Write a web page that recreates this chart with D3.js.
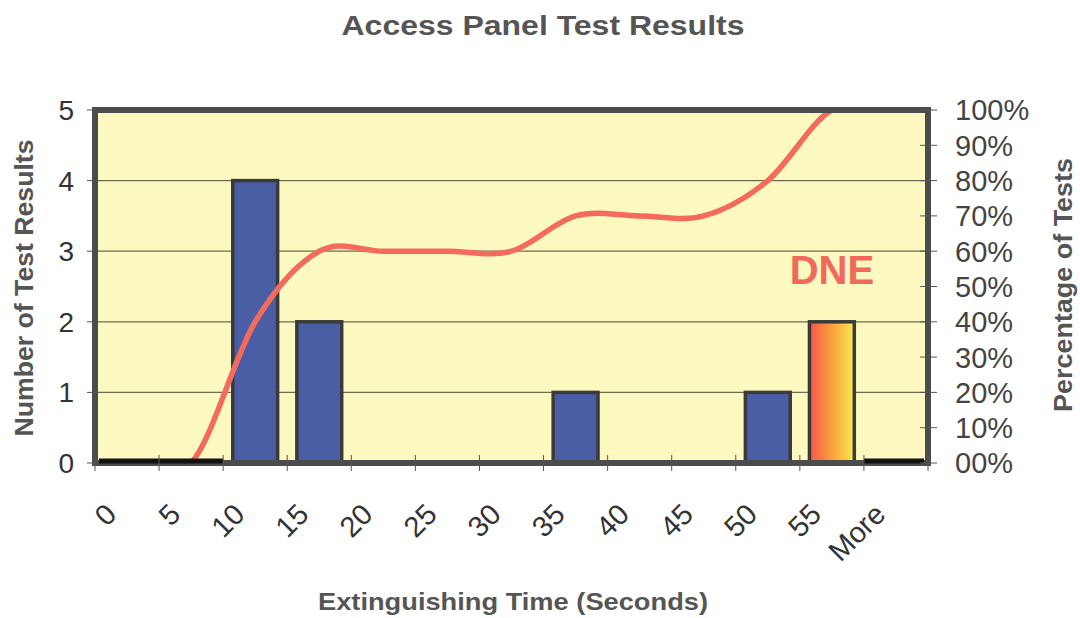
<!DOCTYPE html>
<html><head><meta charset="utf-8">
<script src="https://cdn.jsdelivr.net/npm/d3@7"></script>
<style>
html,body{margin:0;padding:0;background:#fff;}
svg{display:block;font-family:"Liberation Sans",Arial,sans-serif;}
</style></head>
<body>
<svg id="chart" width="1080" height="618"></svg>
<script>
const categories = ["0","5","10","15","20","25","30","35","40","45","50","55","More"];
const counts = [0,0,4,2,0,0,0,1,0,0,1,2,0];
const cumulativePct = [0,0,40,60,60,60,60,70,70,70,80,100,100];
const leftTicks = [0,1,2,3,4,5];
const rightTicks = [0,10,20,30,40,50,60,70,80,90,100];
const rightTickLabels = ["00%","10%","20%","30%","40%","50%","60%","70%","80%","90%","100%"];
const highlightCategory = "55";
const annotation = "DNE";
const title = "Access Panel Test Results";
const xTitle = "Extinguishing Time (Seconds)";
const yTitle = "Number of Test Results";
const y2Title = "Percentage of Tests";

const svg = d3.select("#chart");
const L = 95, R = 928, T = 110, B = 463;

const x = d3.scaleBand().domain(categories).range([L, R]).padding(0);
const step = x.step();
const y = d3.scaleLinear().domain([0,5]).range([B, T]);
const y2 = d3.scaleLinear().domain([0,100]).range([B, T]);

const defs = svg.append("defs");
const grad = defs.append("linearGradient").attr("id","dneGrad").attr("x1","0%").attr("x2","100%").attr("y1","0%").attr("y2","0%");
grad.append("stop").attr("offset","0%").attr("stop-color","#f5574a");
grad.append("stop").attr("offset","50%").attr("stop-color","#f9a03c");
grad.append("stop").attr("offset","100%").attr("stop-color","#f8ea4e");
defs.append("clipPath").attr("id","plotClip").append("rect")
  .attr("x",L).attr("y",T).attr("width",R-L).attr("height",B-T);

// background
svg.append("rect").attr("x",L).attr("y",T).attr("width",R-L).attr("height",B-T).attr("fill","#fbf9c0");

// gridlines
svg.append("g").selectAll("line").data(leftTicks.filter(d=>d>0 && d<5)).join("line")
  .attr("x1",L).attr("x2",R).attr("y1",d=>y(d)).attr("y2",d=>y(d))
  .attr("stroke","#6e6c50").attr("stroke-width",1.2);

// bars
const bw = step*0.7;
const barData = categories.map((c,i)=>({c,v:counts[i]}));
svg.append("g").selectAll("rect").data(barData.filter(d=>d.v>0)).join("rect")
  .attr("x",d=>x(d.c)+(step-bw)/2)
  .attr("y",d=>y(d.v))
  .attr("width",bw)
  .attr("height",d=>B-y(d.v))
  .attr("fill",d=>d.c===highlightCategory?"url(#dneGrad)":"#4a5ea6")
  .attr("stroke","#3a3a3a")
  .attr("stroke-width",3.5);

// cumulative line
const line = d3.line().x((d,i)=>x(categories[i])+step/2).y(d=>y2(d)).curve(d3.curveCatmullRom.alpha(0));
svg.append("path").datum(cumulativePct).attr("d",line)
  .attr("fill","none").attr("stroke","#f46a5c").attr("stroke-width",5.5).attr("clip-path","url(#plotClip)");

// border
svg.append("rect").attr("x",L).attr("y",T).attr("width",R-L).attr("height",B-T)
  .attr("fill","none").attr("stroke","#4c4c4c").attr("stroke-width",6);

// zero-height bars (edge lines on baseline)
svg.append("g").selectAll("line").data(barData.filter((d,i)=>d.v===0 && (i<2 || i===12))).join("line")
  .attr("x1",d=>x(d.c)+(d.c==="0"?4:0)).attr("x2",d=>x(d.c)+step-(d.c==="More"?4:0))
  .attr("y1",B-2).attr("y2",B-2).attr("stroke","#111").attr("stroke-width",5);

// left axis
const gl = svg.append("g");
gl.selectAll("line").data(leftTicks).join("line")
  .attr("x1",L-8).attr("x2",L).attr("y1",d=>y(d)).attr("y2",d=>y(d)).attr("stroke","#555").attr("stroke-width",1);
gl.selectAll("text").data(leftTicks).join("text")
  .attr("x",74).attr("y",d=>y(d)).attr("dy","0.36em").attr("text-anchor","end")
  .attr("font-size",28).attr("fill","#333").text(d=>d);

// right axis
const gr = svg.append("g");
gr.selectAll("line").data(rightTicks).join("line")
  .attr("x1",R-8).attr("x2",R+9).attr("y1",d=>y2(d)).attr("y2",d=>y2(d)).attr("stroke","#555").attr("stroke-width",1);
gr.selectAll("text").data(rightTicks).join("text")
  .attr("x",955).attr("y",d=>y2(d)).attr("dy","0.36em").attr("text-anchor","start")
  .attr("font-size",29).attr("fill","#444").text((d,i)=>rightTickLabels[i]);

// bottom axis ticks
const gb = svg.append("g");
gb.selectAll("line").data(categories.concat(["_end"])).join("line")
  .attr("x1",(d,i)=>L+i*step).attr("x2",(d,i)=>L+i*step)
  .attr("y1",B-8).attr("y2",B+8).attr("stroke","#555").attr("stroke-width",1);
gb.selectAll("text").data(categories).join("text")
  .attr("transform",d=>`translate(${x(d)+16},${B+46}) rotate(-45)`)
  .attr("text-anchor","end").attr("dy","0.35em")
  .attr("font-size",29).attr("fill","#333").text(d=>d);

// DNE annotation
svg.append("text").attr("x",x(highlightCategory)+step/2).attr("y",284).attr("text-anchor","middle")
  .attr("font-size",40).attr("font-weight","bold").attr("fill","#f2685a").text(annotation);

// titles
svg.append("text").attr("x",543).attr("y",35).attr("text-anchor","middle")
  .attr("font-size",27).attr("font-weight","bold").attr("fill","#555")
  .attr("textLength",403).attr("lengthAdjust","spacingAndGlyphs").text(title);
svg.append("text").attr("x",513).attr("y",610).attr("text-anchor","middle")
  .attr("font-size",24).attr("font-weight","bold").attr("fill","#555")
  .attr("textLength",390).attr("lengthAdjust","spacingAndGlyphs").text(xTitle);
svg.append("text").attr("transform","translate(33,288) rotate(-90)").attr("text-anchor","middle")
  .attr("font-size",25).attr("font-weight","bold").attr("fill","#555")
  .attr("textLength",297).attr("lengthAdjust","spacingAndGlyphs").text(yTitle);
svg.append("text").attr("transform","translate(1072,285) rotate(-90)").attr("text-anchor","middle")
  .attr("font-size",25).attr("font-weight","bold").attr("fill","#555")
  .attr("textLength",254).attr("lengthAdjust","spacingAndGlyphs").text(y2Title);
</script>
</body></html>
